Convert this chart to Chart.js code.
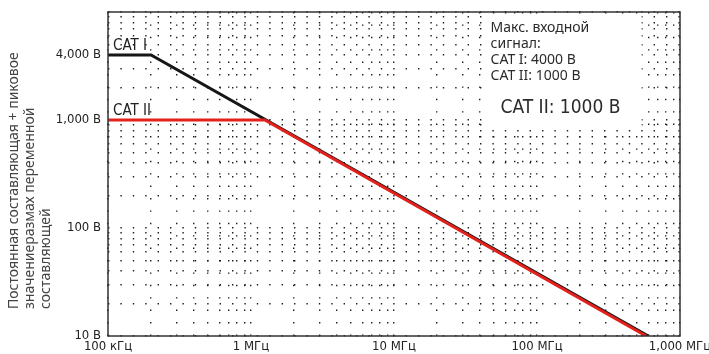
<!DOCTYPE html>
<html>
<head>
<meta charset="utf-8">
<script src="https://cdn.jsdelivr.net/npm/chart.js@4.4.1/dist/chart.umd.min.js"></script>
<style>
  html, body { margin: 0; padding: 0; background: #fff; }
  #wrap { width: 709px; height: 354px; }
</style>
</head>
<body>
<div id="wrap"><canvas id="voltChart" width="709" height="354"></canvas></div>
<script>
// data
const catIFreq = [1e5, 2e5, 6e8];
const catIVolt = [4000, 4000, 10];
const catIIFreq = [1e5, 1.25e6, 5.8e8];
const catIIVolt = [1000, 1000, 10];

const xTickValues = [1e5, 1e6, 1e7, 1e8, 1e9];
const xTickLabels = ['100 кГц', '1 МГц', '10 МГц', '100 МГц', '1,000 МГц'];
const yTickValues = [10, 100, 1000, 4000];
const yTickLabels = ['10 В', '100 В', '1,000 В', '4,000 В'];

const yTitleLines = ['Постоянная составляющая + пиковое', 'значениеразмах переменной', 'составляющей'];
const noteLines = ['Макс. входной', 'сигнал:', 'CAT I: 4000 В', 'CAT II: 1000 В'];
const noteBig = 'CAT II: 1000 В';

const NARROW = "'Liberation Sans Narrow', 'DejaVu Sans Condensed', Roboto, sans-serif";
const NOTE_FREQ = 4.3e7; // left edge of the note panel, in Hz

// every 1..9 step of each decade, for the dotted grid
function decadeSteps(min, max) {
    const out = [];
    for (let d = min; d < max; d *= 10) {
        for (let m = 1; m < 10; m++) out.push(d * m);
    }
    out.push(max);
    return out;
}

function toPoints(xs, ys) {
    return xs.map((x, i) => ({ x: x, y: ys[i] }));
}

// frame, axis title and the text notes
const decorPlugin = {
    id: 'decor',
    beforeDatasetsDraw(chart) {
        const { ctx, chartArea: a, scales } = chart;
        // white panel behind the note (top right)
        const x0 = scales.x.getPixelForValue(NOTE_FREQ);
        ctx.save();
        ctx.fillStyle = '#ffffff';
        ctx.fillRect(x0, a.top + 2, 157, 114);
        ctx.restore();
    },
    afterDraw(chart) {
        const { ctx, chartArea: a, scales } = chart;
        ctx.save();
        ctx.strokeStyle = '#333';
        ctx.lineWidth = 1.5;
        ctx.strokeRect(a.left, a.top, a.right - a.left, a.bottom - a.top);

        // rotated y title, three lines starting near the bottom
        ctx.fillStyle = '#444';
        ctx.font = "14px 'Noto Sans', sans-serif";
        ctx.textAlign = 'left';
        ctx.textBaseline = 'middle';
        yTitleLines.forEach((line, i) => {
            ctx.save();
            ctx.translate(14 + i * 16, 309);
            ctx.rotate(-Math.PI / 2);
            ctx.fillText(line, 0, 0);
            ctx.restore();
        });

        // series labels
        ctx.fillStyle = '#222';
        ctx.font = '15px ' + NARROW;
        ctx.textBaseline = 'alphabetic';
        ctx.fillText('CAT I', a.left + 5, scales.y.getPixelForValue(4000) - 5);
        ctx.fillText('CAT II', a.left + 5, scales.y.getPixelForValue(1000) - 5);

        // note box text
        const nx = scales.x.getPixelForValue(NOTE_FREQ);
        ctx.fillStyle = '#2b2b2b';
        ctx.font = "14px 'Noto Sans', sans-serif";
        ctx.textBaseline = 'middle';
        noteLines.forEach((line, i) => {
            ctx.fillText(line, nx + 6, a.top + 16 + i * 16);
        });
        ctx.font = '19px ' + NARROW;
        ctx.fillText(noteBig, nx + 16, a.top + 96);
        ctx.restore();
    }
};

new Chart(document.getElementById('voltChart').getContext('2d'), {
    type: 'line',
    data: {
        datasets: [
            {
                label: 'CAT II',
                data: toPoints(catIIFreq, catIIVolt),
                borderColor: '#e3201b',
                borderWidth: 3,
                pointRadius: 0,
                tension: 0
            },
            {
                label: 'CAT I',
                data: toPoints(catIFreq, catIVolt),
                borderColor: '#161616',
                borderWidth: 3,
                pointRadius: 0,
                tension: 0
            }
        ]
    },
    options: {
        responsive: false,
        animation: false,
        layout: { padding: { top: 12, right: 29, left: 0, bottom: 0 } },
        plugins: {
            legend: { display: false },
            tooltip: { enabled: false }
        },
        scales: {
            x: {
                type: 'logarithmic',
                min: 1e5,
                max: 1e9,
                afterBuildTicks: (scale) => {
                    scale.ticks = decadeSteps(1e5, 1e9).map(v => ({ value: v }));
                },
                afterFit: (scale) => {
                    scale.height = 18;
                    scale.paddingLeft = 0;
                    scale.paddingRight = 0;
                },
                grid: {
                    color: '#1e1e1e',
                    lineWidth: 1.4,
                    drawTicks: false
                },
                border: { display: false, dash: [1.4, 11] },
                ticks: {
                    autoSkip: false,
                    maxRotation: 0,
                    padding: 3,
                    color: '#222',
                    font: { family: NARROW, size: 13 },
                    callback: (v) => {
                        const i = xTickValues.indexOf(v);
                        return i >= 0 ? xTickLabels[i] : '';
                    }
                }
            },
            y: {
                type: 'logarithmic',
                min: 10,
                max: 10000,
                afterBuildTicks: (scale) => {
                    scale.ticks = decadeSteps(10, 10000).map(v => ({ value: v }));
                },
                afterFit: (scale) => {
                    scale.width = 108;
                    scale.paddingTop = 0;
                    scale.paddingBottom = 0;
                },
                grid: {
                    color: '#1e1e1e',
                    lineWidth: 1.4,
                    drawTicks: false
                },
                border: { display: false, dash: [1.4, 11] },
                ticks: {
                    autoSkip: false,
                    padding: 7,
                    color: '#222',
                    font: { family: NARROW, size: 13 },
                    callback: (v) => {
                        const i = yTickValues.indexOf(v);
                        return i >= 0 ? yTickLabels[i] : '';
                    }
                }
            }
        }
    },
    plugins: [decorPlugin]
});
</script>
</body>
</html>
